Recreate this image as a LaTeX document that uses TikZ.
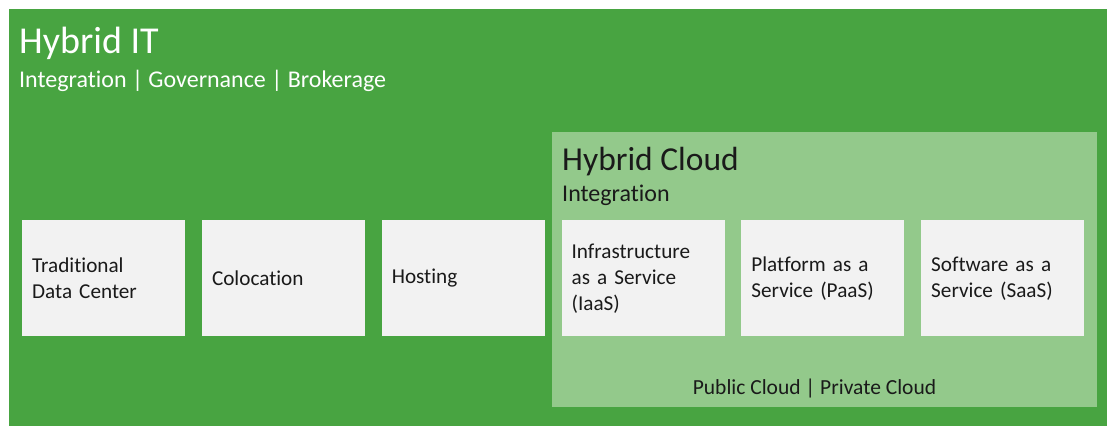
\documentclass[tikz,border=0pt]{standalone}
\usepackage{fontspec}
\setmainfont{Carlito}[Ligatures=NoCommon]
\usetikzlibrary{positioning}

\definecolor{itgreen}{HTML}{48A441}
\definecolor{cloudgreen}{HTML}{93C98B}
\definecolor{tile}{HTML}{F2F2F2}
\definecolor{ink}{HTML}{1A1A1A}

\tikzset{
  tilebox/.style={fill=tile, minimum height=116pt, text width=143pt,
    inner xsep=10pt, inner ysep=0pt, align=left, text=ink,
    font=\fontsize{21.2}{26}\selectfont},
  heading/.style={anchor=base west, inner sep=0pt},
}

\begin{document}
\begin{tikzpicture}[x=1pt, y=-1pt, node distance=16.4pt]
	\useasboundingbox (0,0) rectangle (1107,426);
	\fill[itgreen] (9,9) rectangle (1107,426);
	\fill[cloudgreen] (552,132) rectangle (1097,407);
	
	\node[heading, text=white, font=\fontsize{38}{45}\selectfont] (it) at (19,53) {Hybrid IT};
	\node[heading, text=white, font=\fontsize{24}{29}\selectfont] (itsub) at (19,87) {Integration | Governance | Brokerage};
	\node[heading, text=ink, font=\fontsize{33.5}{40}\selectfont] (cloud) at (562,170) {Hybrid Cloud};
	\node[heading, text=ink, font=\fontsize{24}{29}\selectfont] (cloudsub) at (562,201) {Integration};
	
	\node[tilebox, anchor=north west] (dc) at (22,220) {Traditional\\Data Center};
	\node[tilebox, right=of dc] (colo) {Colocation};
	\node[tilebox, right=of colo] (host) {Hosting};
	\node[tilebox, right=of host] (iaas) {Infrastructure\\as a Service\\(IaaS)};
	\node[tilebox, right=of iaas] (paas) {Platform as a\\Service (PaaS)};
	\node[tilebox, right=of paas] (saas) {Software as a\\Service (SaaS)};
	
	\node[anchor=base, inner sep=0pt, text=ink, font=\fontsize{21.5}{26}\selectfont] (deploy) at (814.5,394) {Public Cloud | Private Cloud};
\end{tikzpicture}
\end{document}
